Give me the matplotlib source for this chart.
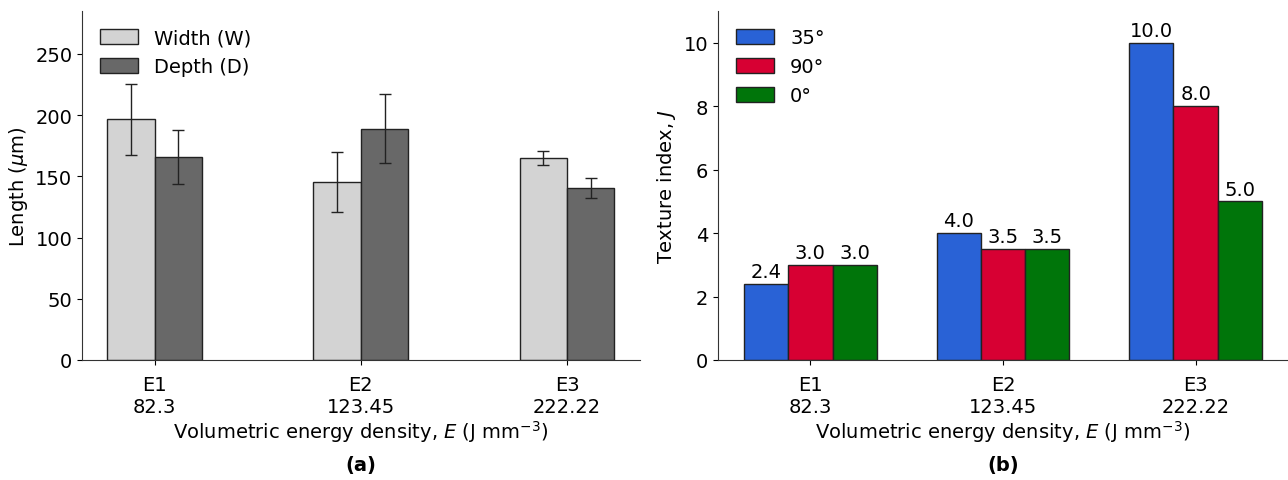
import numpy as np
import matplotlib.pyplot as plt

# data
groups = ['E1\n82.3', 'E2\n123.45', 'E3\n222.22']
width_vals = [196.5, 145.3, 164.9]
width_err = [29.0, 24.5, 6.0]
depth_vals = [166.0, 189.0, 140.5]
depth_err = [22.0, 28.0, 8.5]

tex_labels = ['35°', '90°', '0°']
tex_35 = [2.4, 4.0, 10.0]
tex_90 = [3.0, 3.5, 8.0]
tex_0 = [3.0, 3.5, 5.0]

plt.rcParams['font.size'] = 14
plt.rcParams['xtick.major.pad'] = 7
fig = plt.figure(figsize=(12.88, 4.81), dpi=100)
ax1 = fig.add_axes([0.0637, 0.2495, 0.433, 0.7256])
ax2 = fig.add_axes([0.5575, 0.2495, 0.4425, 0.7256])

x = np.arange(len(groups))
w = 0.23
xlab = 'Volumetric energy density, $E$ (J mm$^{-3}$)'

# (a) width / depth
ax1.bar(x - w/2, width_vals, w, yerr=width_err, color='#d3d3d3', edgecolor='#222222',
        linewidth=1, capsize=4, error_kw=dict(elinewidth=1, ecolor='#222222'), label='Width (W)')
ax1.bar(x + w/2, depth_vals, w, yerr=depth_err, color='#686868', edgecolor='#222222',
        linewidth=1, capsize=4, error_kw=dict(elinewidth=1, ecolor='#222222'), label='Depth (D)')
ax1.set_ylim(0, 285)
ax1.set_xticks(x)
ax1.set_xticklabels(groups)
ax1.set_ylabel('Length ($\\mu$m)')
ax1.set_xlabel(xlab, labelpad=2)
ax1.legend(loc='upper left', frameon=False, handlelength=2.0, handleheight=0.8)

# (b) texture index
cols = ['#2962d6', '#d70033', '#00750a']
for i, (vals, c) in enumerate(zip([tex_35, tex_90, tex_0], cols)):
    bars = ax2.bar(x + (i - 1) * w, vals, w, color=c, edgecolor='#222222', linewidth=1,
                   label=tex_labels[i])
    ax2.bar_label(bars, labels=['%.1f' % v for v in vals], padding=2)
ax2.set_ylim(0, 11)
ax2.set_xticks(x)
ax2.set_xticklabels(groups)
ax2.set_ylabel('Texture index, $J$')
ax2.set_xlabel(xlab, labelpad=2)
ax2.legend(loc='upper left', frameon=False, handlelength=2.0, handleheight=0.8)

for ax in (ax1, ax2):
    ax.spines['top'].set_visible(False)
    ax.spines['right'].set_visible(False)
    for s in ('left', 'bottom'):
        ax.spines[s].set_color('#333333')

fig.text(0.2802, 0.02, '(a)', ha='center', fontweight='bold')
fig.text(0.7788, 0.02, '(b)', ha='center', fontweight='bold')

fig.savefig('out.png', dpi=100)
